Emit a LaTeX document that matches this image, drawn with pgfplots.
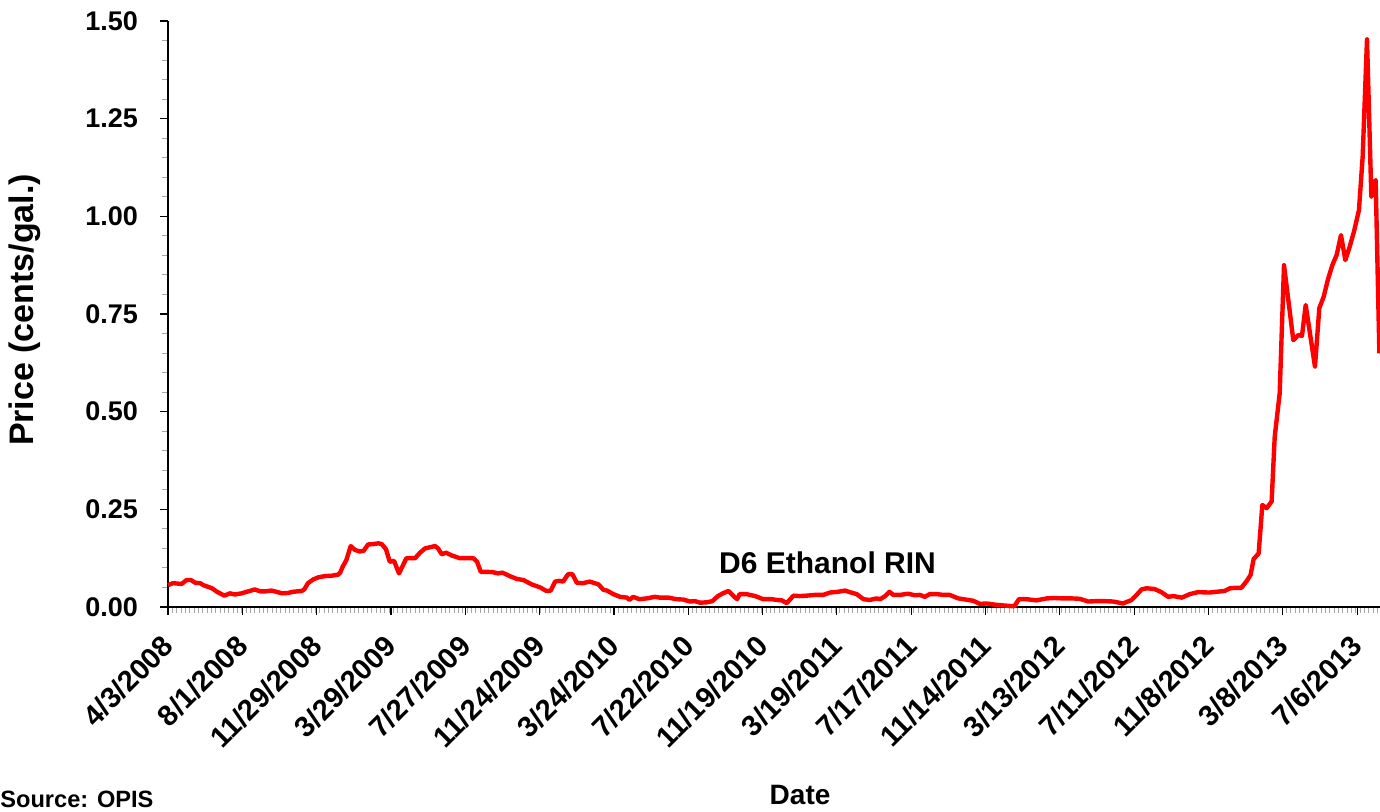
\documentclass[border=0pt]{standalone}
\usepackage{fontspec}
\setmainfont{Liberation Sans}
\usepackage{pgfplots}
\pgfplotsset{compat=1.18}
\usepackage{pgfplotstable}
\pgfplotstableread{
d v
0 0.056
8 0.061
22 0.059
30 0.069
37 0.069
44 0.062
52 0.061
57 0.056
71 0.048
79 0.039
84 0.035
91 0.029
100 0.035
108 0.032
119 0.035
127 0.039
132 0.041
140 0.045
149 0.040
157 0.040
167 0.042
175 0.039
184 0.035
194 0.036
202 0.039
216 0.041
220 0.045
226 0.061
235 0.071
243 0.076
253 0.079
264 0.080
275 0.083
278 0.088
282 0.103
288 0.120
295 0.156
302 0.146
310 0.142
316 0.144
323 0.160
331 0.161
340 0.163
345 0.161
352 0.148
358 0.116
365 0.118
373 0.086
385 0.125
399 0.125
407 0.139
415 0.150
426 0.154
431 0.156
436 0.150
442 0.135
449 0.139
458 0.132
471 0.125
482 0.125
493 0.125
499 0.116
505 0.090
515 0.090
525 0.089
533 0.086
540 0.088
552 0.079
563 0.072
574 0.069
587 0.058
601 0.050
611 0.041
618 0.042
625 0.065
632 0.067
638 0.065
646 0.084
653 0.084
660 0.062
670 0.061
681 0.065
695 0.058
703 0.044
709 0.042
719 0.033
730 0.026
741 0.024
745 0.018
751 0.026
761 0.020
773 0.022
786 0.026
794 0.024
808 0.024
821 0.020
832 0.019
843 0.014
851 0.015
859 0.011
870 0.012
879 0.015
888 0.028
896 0.035
905 0.041
913 0.028
919 0.020
923 0.033
934 0.033
948 0.028
961 0.020
975 0.020
983 0.018
991 0.017
999 0.010
1010 0.029
1020 0.028
1031 0.029
1045 0.031
1058 0.031
1069 0.037
1082 0.039
1093 0.042
1101 0.038
1112 0.033
1123 0.020
1133 0.018
1144 0.022
1150 0.020
1158 0.028
1165 0.039
1171 0.031
1182 0.031
1195 0.034
1206 0.030
1214 0.031
1222 0.026
1230 0.033
1241 0.033
1252 0.031
1262 0.031
1276 0.022
1292 0.018
1300 0.016
1311 0.008
1322 0.009
1335 0.006
1349 0.004
1365 0.002
1367 0.003
1374 0.020
1386 0.020
1402 0.017
1419 0.022
1432 0.023
1445 0.022
1459 0.022
1472 0.021
1486 0.014
1499 0.015
1513 0.015
1526 0.014
1536 0.011
1542 0.009
1556 0.018
1564 0.031
1572 0.045
1580 0.048
1593 0.046
1604 0.038
1615 0.026
1623 0.028
1637 0.024
1650 0.033
1663 0.038
1682 0.037
1693 0.039
1706 0.041
1715 0.048
1723 0.049
1733 0.049
1742 0.067
1748 0.082
1753 0.123
1761 0.137
1767 0.261
1774 0.253
1782 0.270
1787 0.436
1795 0.547
1802 0.875
1817 0.683
1825 0.696
1831 0.694
1837 0.773
1852 0.615
1859 0.765
1866 0.794
1873 0.839
1880 0.875
1887 0.901
1894 0.952
1901 0.888
1908 0.922
1915 0.961
1923 1.016
1929 1.153
1936 1.453
1943 1.050
1950 1.093
1956 0.649
}\rin
\begin{document}
\begin{tikzpicture}
\begin{axis}[
  scale only axis,
  width=606pt, height=293pt,
  xmin=0, xmax=1957, ymin=0, ymax=1.5,
  axis lines=left,
  axis line style={-, line width=0.75pt},
  clip=false,
  tick align=outside,
  major tick length=4pt,
  minor tick length=3pt,
  every tick/.style={black, line width=0.6pt},
  minor tick style={gray!70, line width=0.5pt},
  xtick={0,120,...,1920},
  xticklabels={4/3/2008,8/1/2008,11/29/2008,3/29/2009,7/27/2009,11/24/2009,3/24/2010,7/22/2010,11/19/2010,3/19/2011,7/17/2011,11/14/2011,3/13/2012,7/11/2012,11/8/2012,3/8/2013,7/6/2013},
  minor xtick={0,7,...,1957},
  ytick={0,0.25,...,1.5},
  minor ytick={0,0.05,...,1.5},
  xticklabel style={xshift=2.5pt, yshift=-10.5pt, rotate=45, anchor=east, font=\fontsize{14.5}{17}\selectfont\bfseries},
  yticklabel style={xshift=-7.5pt, font=\fontsize{13.5}{16}\selectfont\bfseries},
  yticklabel={\pgfmathprintnumber[fixed, fixed zerofill, precision=2]{\tick}},
  /pgf/number format/assume math mode=true,
]
\addplot[red, line width=2.2pt, line join=round] table[x=d, y=v] {\rin};
\node[font=\fontsize{15}{18}\selectfont\bfseries] at (axis cs:1065,0.113) {D6 Ethanol RIN};
\node[font=\fontsize{14}{17}\selectfont\bfseries] at (rel axis cs:0.5215,-0.321) {Date};
\node[font=\fontsize{11.8}{14}\selectfont\bfseries, anchor=west, inner sep=0pt] at (rel axis cs:-0.1386,-0.329) {Source: OPIS};
\node[font=\fontsize{17}{20}\selectfont\bfseries, rotate=90] at (rel axis cs:-0.118,0.507) {Price (cents/gal.)};
\end{axis}
\pgfresetboundingbox
\useasboundingbox ([xshift=-84pt, yshift=-102.5pt]current axis.south west) rectangle ([yshift=10.5pt]current axis.north east);
\end{tikzpicture}
\end{document}
